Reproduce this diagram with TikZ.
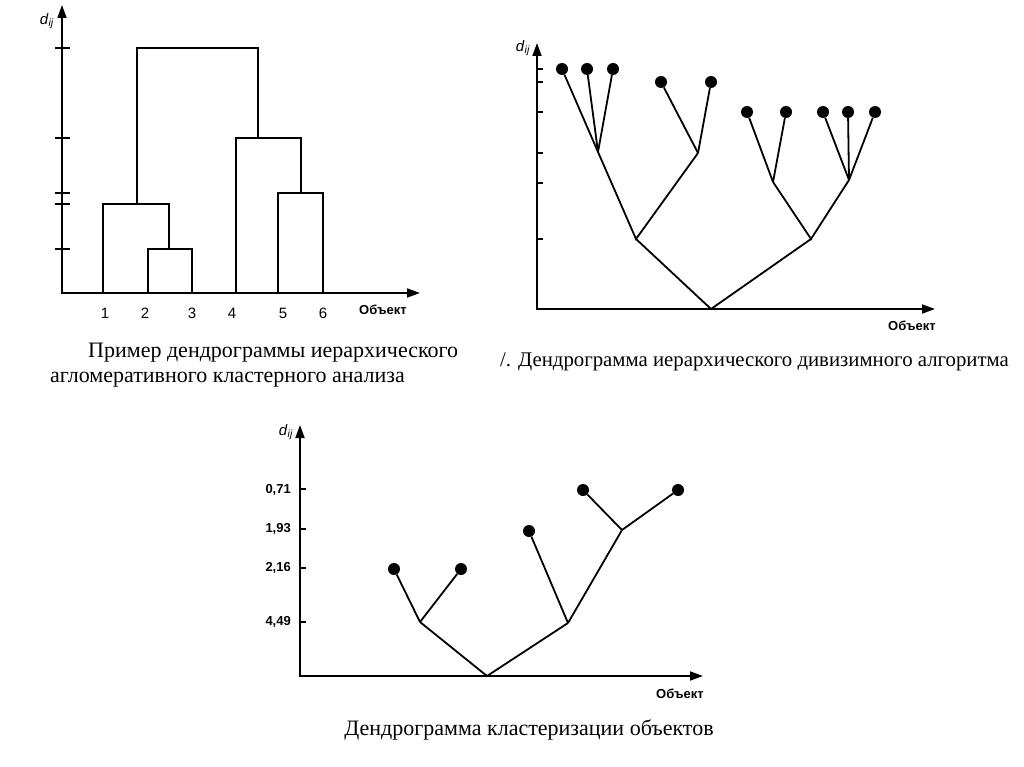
\documentclass[tikz,border=0pt]{standalone}
\usepackage{fontspec}
\setmainfont{Liberation Serif}
\setsansfont{Liberation Sans}
\usetikzlibrary{arrows.meta}
\begin{document}
\begin{tikzpicture}[x=1pt,y=-1pt,
  axis/.style={line width=1.8pt, {Triangle[length=13pt,width=9pt]}-{Triangle[length=13pt,width=9pt]}},
  br/.style={line width=1.8pt},
  leaf/.style={circle, fill=black, inner sep=0pt, minimum size=12pt},
  tickmark/.style={line width=1.5pt},
  axlab/.style={font=\sffamily\bfseries\fontsize{13}{13}\selectfont, inner sep=0pt},
  num/.style={font=\sffamily\fontsize{15}{15}\selectfont, inner sep=0pt},
  tlab/.style={font=\sffamily\bfseries\fontsize{13}{13}\selectfont, anchor=east, inner sep=0pt},
  dlab/.style={font=\sffamily\fontsize{15}{15}\selectfont, inner sep=0pt},
  captext/.style={font=\fontsize{22}{27}\selectfont, inner sep=0pt, align=left}]
\useasboundingbox (0,0) rectangle (1024,767);

% ---------- top-left: agglomerative dendrogram ----------
\coordinate (Atop) at (62,5);
\coordinate (A0) at (62,293);
\coordinate (Aend) at (420,293);
\draw[axis] (Atop) -- (A0) -- (Aend);
\foreach \y in {48,138,193,204,249} \draw[tickmark] (55,\y) -- (70,\y);
\node[dlab] (Ad) at (47,21) {\textit{d}\textsubscript{\textit{ij}}};
\node[axlab] (Aob) at (383,310) {Объект};

\coordinate (L1) at (103,293);
\coordinate (L2) at (148,293);
\coordinate (L3) at (192,293);
\coordinate (L4) at (236,293);
\coordinate (L5) at (278,293);
\coordinate (L6) at (323,293);
\node[num] (n1) at (105,313) {1};
\node[num] (n2) at (145,313) {2};
\node[num] (n3) at (192,313) {3};
\node[num] (n4) at (232,313) {4};
\node[num] (n5) at (283,313) {5};
\node[num] (n6) at (323,313) {6};

\coordinate (m23) at (169,249);
\coordinate (m123) at (137,204);
\coordinate (m56) at (301,193);
\coordinate (m456) at (258,138);
\coordinate (mroot) at (197,48);
\draw[br] (L2) |- (m23) -| (L3);
\draw[br] (L1) |- (m123) -| (m23);
\draw[br] (L5) |- (m56) -| (L6);
\draw[br] (L4) |- (m456) -| (m56);
\draw[br] (m123) |- (mroot) -| (m456);

\node[captext, anchor=west] (capA1) at (88,353) {Пример дендрограммы иерархического};
\node[captext, anchor=west] (capA2) at (50,380) {агломеративного кластерного анализа};

% ---------- top-right: divisive dendrogram ----------
\coordinate (Btop) at (537,43);
\coordinate (B0) at (537,309);
\coordinate (Bend) at (935,309);
\draw[axis] (Btop) -- (B0) -- (Bend);
\foreach \y in {69,82,112,153,183,239} \draw[tickmark] (537,\y) -- (543,\y);
\node[dlab] (Bd) at (523,48) {\textit{d}\textsubscript{\textit{ij}}};
\node[axlab] (Bob) at (912,326) {Объект};

\node[leaf] (b1) at (562,69) {};
\node[leaf] (b2) at (587,69) {};
\node[leaf] (b3) at (613,69) {};
\node[leaf] (b4) at (661,82) {};
\node[leaf] (b5) at (711,82) {};
\node[leaf] (b6) at (747,112) {};
\node[leaf] (b7) at (786,112) {};
\node[leaf] (b8) at (823,112) {};
\node[leaf] (b9) at (848,112) {};
\node[leaf] (b10) at (875,112) {};
\coordinate (bj1) at (598,152);
\coordinate (bj2) at (698,153);
\coordinate (bj3) at (773,182);
\coordinate (bj4) at (849,180);
\coordinate (bj5) at (636,239);
\coordinate (bj6) at (811,239);
\coordinate (broot) at (711,309);
\foreach \d in {b1,b2,b3} \draw[br] (\d) -- (bj1);
\foreach \d in {b4,b5} \draw[br] (\d) -- (bj2);
\foreach \d in {b6,b7} \draw[br] (\d) -- (bj3);
\foreach \d in {b8,b9,b10} \draw[br] (\d) -- (bj4);
\draw[br] (bj1) -- (bj5) -- (bj2);
\draw[br] (bj3) -- (bj6) -- (bj4);
\draw[br] (bj5) -- (broot) -- (bj6);

\node[captext, anchor=west, font=\fontsize{20.8}{26}\selectfont] (capB) at (500,362) {/. Дендрограмма иерархического дивизимного алгоритма};

% ---------- bottom: clustering dendrogram ----------
\coordinate (Ctop) at (300,425);
\coordinate (C0) at (300,676);
\coordinate (Cend) at (703,676);
\draw[axis] (Ctop) -- (C0) -- (Cend);
\foreach \y in {489,529,568,622} \draw[tickmark] (300,\y) -- (306,\y);
\node[dlab] (Cd) at (286,432) {\textit{d}\textsubscript{\textit{ij}}};
\node[axlab] (Cob) at (680,694) {Объект};
\node[tlab] (t1) at (291,490) {0,71};
\node[tlab] (t2) at (291,529) {1,93};
\node[tlab] (t3) at (291,568) {2,16};
\node[tlab] (t4) at (291,622) {4,49};

\node[leaf] (c1) at (394,569) {};
\node[leaf] (c2) at (461,569) {};
\node[leaf] (c3) at (529,531) {};
\node[leaf] (c4) at (583,490) {};
\node[leaf] (c5) at (678,490) {};
\coordinate (cja) at (420,622);
\coordinate (cjb) at (568,623);
\coordinate (cjc) at (622,530);
\coordinate (croot) at (487,676);
\draw[br] (c1) -- (cja);
\draw[br] (c2) -- (cja);
\draw[br] (c3) -- (cjb);
\draw[br] (c4) -- (cjc);
\draw[br] (c5) -- (cjc);
\draw[br] (cjc) -- (cjb);
\draw[br] (cja) -- (croot) -- (cjb);

\node[captext] (capC) at (529,730) {Дендрограмма кластеризации объектов};
\end{tikzpicture}
\end{document}
